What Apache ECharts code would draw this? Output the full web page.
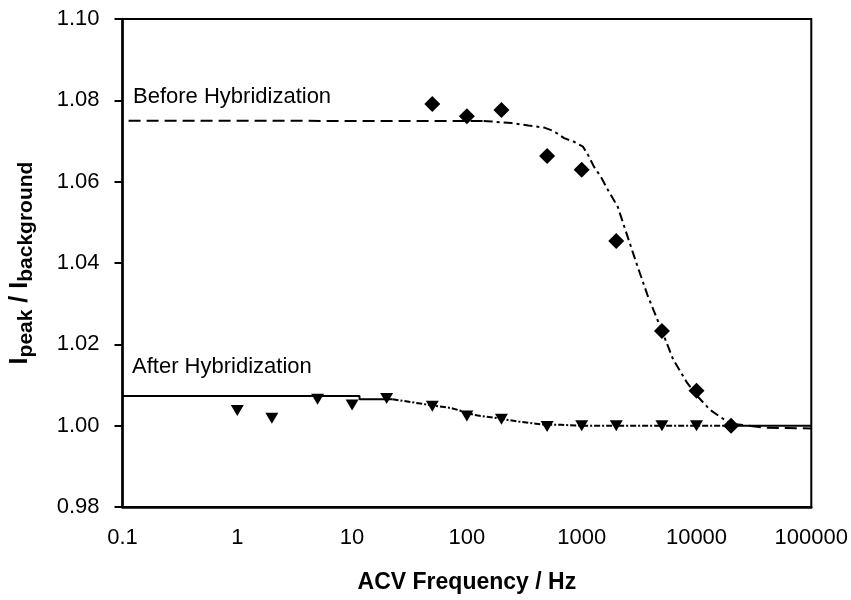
<!DOCTYPE html>
<html>
<head>
<meta charset="utf-8">
<script src="https://cdn.jsdelivr.net/npm/echarts@6/dist/echarts.min.js"></script>
<style>
html,body{margin:0;padding:0;background:#fff;}
#chart{width:851px;height:600px;}
</style>
</head>
<body>
<div id="chart"></div>
<script>
// ---- data ----
const xTickLabels = ['0.1', '1', '10', '100', '1000', '10000', '100000'];
const yTickLabels = ['0.98', '1.00', '1.02', '1.04', '1.06', '1.08', '1.10'];

const beforeFreq = [50, 100, 200, 500, 1000, 2000, 5000, 10000, 20000];
const beforeVal  = [1.0791, 1.0761, 1.0776, 1.0663, 1.0629, 1.0454, 1.0233, 1.0086, 1.0000];

const afterFreq = [1, 2, 5, 10, 20, 50, 100, 200, 500, 1000, 2000, 5000, 10000];
const afterVal  = [1.0037, 1.0018, 1.0065, 1.0051, 1.0067, 1.0048, 1.0024, 1.0016, 0.9998, 1.0000, 1.0000, 1.0000, 1.0000];

// fitted curve, before hybridization
const fitBeforeFlatX = [0.113, 140];
const fitBeforeFlatY = [1.0750, 1.0749];
const fitBeforeDropX = [140, 164, 245, 344, 472, 565, 703, 859, 1026, 1134, 1278, 1469, 1689, 2061, 2565, 3069, 3743, 5000, 6280, 8300, 10300, 13100, 16000, 20000];
const fitBeforeDropY = [1.0749, 1.0748, 1.0744, 1.0738, 1.0733, 1.0725, 1.0707, 1.0698, 1.0686, 1.0666, 1.0637, 1.0612, 1.0580, 1.0538, 1.0457, 1.0391, 1.0321, 1.0233, 1.0162, 1.0105, 1.0071, 1.0039, 1.0022, 1.0005];
const fitBeforeTailX = [20000, 40000, 100000];
const fitBeforeTailY = [1.0005, 0.9995, 0.9993];

// fitted curve, after hybridization
const fitAfterFlatX = [0.1, 11.6, 11.6, 22.5];
const fitAfterFlatY = [1.0073, 1.0073, 1.0065, 1.0065];
const fitAfterDropX = [22.5, 47, 74, 117, 189, 281, 445, 663, 1000, 20000];
const fitAfterDropY = [1.0065, 1.0051, 1.0043, 1.0026, 1.0018, 1.0010, 1.0003, 1.0002, 1.0000, 1.0000];
const fitAfterTailX = [20000, 100000];
const fitAfterTailY = [1.0000, 1.0000];

const labelBefore = 'Before Hybridization';
const labelAfter = 'After Hybridization';

// ---- build ----
const zip = (xs, ys) => xs.map((x, i) => [x, ys[i]]);
const FONT = '"Liberation Sans", Arial, sans-serif';

function lineSeries(xs, ys, type, width) {
  return {
    type: 'line', data: zip(xs, ys), showSymbol: false, symbol: 'none', smooth: false,
    lineStyle: { color: '#000', width: width || 2, type: type, opacity: 1 },
    silent: true, z: 2
  };
}

const chart = echarts.init(document.getElementById('chart'), null, { renderer: 'canvas' });
chart.setOption({
  animation: false,
  backgroundColor: '#fff',
  grid: { left: 118, right: 39, top: 19, bottom: 93, show: true, borderColor: '#000', borderWidth: 2, backgroundColor: 'transparent' },
  xAxis: {
    type: 'log', logBase: 10, min: 0.1, max: 100000,
    name: 'ACV Frequency / Hz', nameLocation: 'middle', nameGap: 64,
    nameTextStyle: { fontFamily: FONT, fontSize: 23, fontWeight: 'bold', color: '#000' },
    axisLine: { show: true, lineStyle: { color: '#000', width: 2.5 } },
    axisTick: { show: false },
    splitLine: { show: false },
    minorTick: { show: false },
    axisLabel: {
      margin: 20, fontFamily: FONT, fontSize: 22, color: '#000',
      formatter: v => xTickLabels[Math.round(Math.log10(v)) + 1]
    }
  },
  yAxis: {
    type: 'value', min: 0.98, max: 1.10, interval: 0.02,
    name: '{m|I}{s|peak}{m| / I}{s|background}', nameLocation: 'middle', nameGap: 86, nameRotate: 90,
    nameTextStyle: {
      color: '#000',
      rich: {
        m: { fontFamily: FONT, fontSize: 25, fontWeight: 'bold', color: '#000', lineHeight: 32, verticalAlign: 'middle' },
        s: { fontFamily: FONT, fontSize: 21, fontWeight: 'bold', color: '#000', lineHeight: 21, verticalAlign: 'bottom' }
      }
    },
    axisLine: { show: true, lineStyle: { color: '#000', width: 2.5 } },
    axisTick: { show: true, inside: false, length: 8, lineStyle: { color: '#000', width: 2 } },
    splitLine: { show: false },
    axisLabel: {
      margin: 23, fontFamily: FONT, fontSize: 22, color: '#000',
      formatter: (v) => yTickLabels[Math.round((v - 0.98) / 0.02)]
    }
  },
  graphic: [
    { type: 'text', left: 133, top: 86, style: { text: labelBefore, font: '22px ' + FONT, fill: '#000' } },
    { type: 'text', left: 132, top: 356, style: { text: labelAfter, font: '22px ' + FONT, fill: '#000' } }
  ],
  series: [
    lineSeries(fitBeforeFlatX, fitBeforeFlatY, [12, 6]),
    lineSeries(fitBeforeDropX, fitBeforeDropY, [9, 4, 3, 4]),
    lineSeries(fitBeforeTailX, fitBeforeTailY, [12, 6]),
    lineSeries(fitAfterFlatX, fitAfterFlatY, 'solid'),
    lineSeries(fitAfterDropX, fitAfterDropY, [6, 2, 2, 2]),
    lineSeries(fitAfterTailX, fitAfterTailY, 'solid'),
    {
      type: 'scatter', data: zip(beforeFreq, beforeVal), symbol: 'diamond', symbolSize: [16, 16],
      itemStyle: { color: '#000', opacity: 1 }, z: 5
    },
    {
      type: 'scatter', data: zip(afterFreq, afterVal), symbol: 'triangle', symbolRotate: 180, symbolSize: [13, 11],
      itemStyle: { color: '#000', opacity: 1 }, z: 5
    }
  ]
});
</script>
</body>
</html>
